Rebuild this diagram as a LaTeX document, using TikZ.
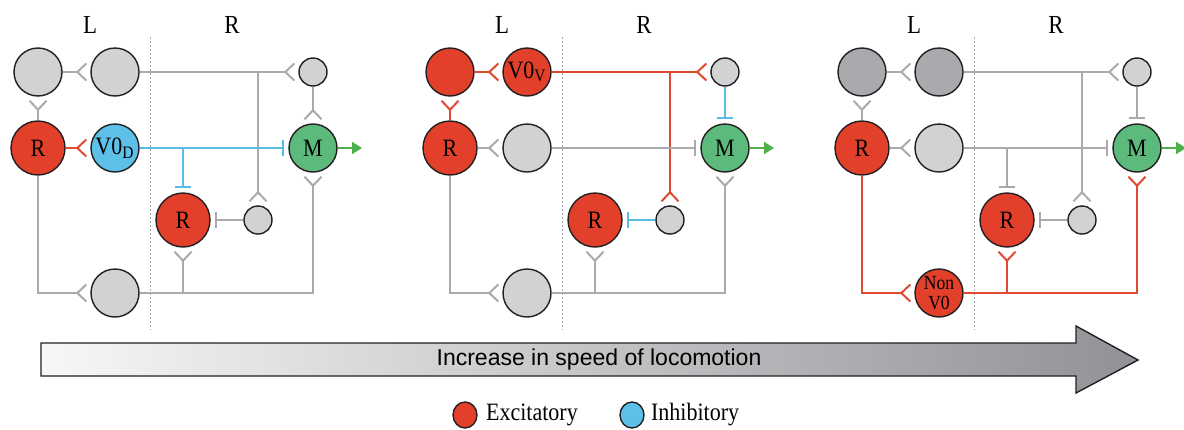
\documentclass[tikz,border=0pt]{standalone}
\usepackage{fontspec}
\setmainfont{Liberation Serif}[FakeStretch=0.88]
\newfontfamily\sansfam{Liberation Sans}
\usetikzlibrary{arrows.meta,shapes.geometric,positioning}

\definecolor{exred}{HTML}{E2402B}
\definecolor{inblue}{HTML}{5CC0E8}
\definecolor{mngreen}{HTML}{5DBA7D}
\definecolor{cellgray}{HTML}{D1D2D4}
\definecolor{darkcell}{HTML}{A8AAAD}
\definecolor{wire}{HTML}{A8AAAD}
\definecolor{redwire}{HTML}{E04A33}
\definecolor{bluewire}{HTML}{5ABCE3}
\definecolor{outgreen}{HTML}{4DB04A}
\definecolor{rim}{HTML}{231F20}
\definecolor{shadeL}{HTML}{F7F7F8}
\definecolor{shadeR}{HTML}{909295}

\tikzset{
  cell/.style={circle, draw=rim, line width=0.7pt, inner sep=0pt,
    minimum size=24pt, font=\fontsize{12.5}{13}\selectfont},
  bigcell/.style={cell, minimum size=27pt},
  smallcell/.style={cell, minimum size=14pt},
  exc/.style={line width=1pt, -{Straight Barb[reversed, length=4.5pt, width=8.5pt]}, shorten >=1.5pt},
  inh/.style={line width=1pt, -{Bar[width=8pt]}, shorten >=2pt},
  motor/.style={outgreen, line width=1pt, -{Triangle[length=5pt, width=6pt]}},
  side/.style={font=\fontsize{13}{14}\selectfont},
  midline/.style={wire, line width=0.4pt, dash pattern=on 1pt off 1pt},
  key/.style={ellipse, draw=rim, line width=0.7pt, inner sep=0pt,
    minimum width=12pt, minimum height=13pt},
  keytext/.style={inner sep=0pt, font=\fontsize{12.5}{13}\selectfont}
}

\begin{document}
\begin{tikzpicture}[x=0.5pt, y=-0.5pt]
  \useasboundingbox (0,0) rectangle (1184,429);

  % sides and midlines
  \foreach \dx in {0,412,824} {
    \node[side] (L\dx) at (90+\dx,25) {L};
    \node[side] (R\dx) at (232+\dx,25) {R};
    \draw[midline] (150+\dx,37) -- (150+\dx,330);
  }

  % slow
  \begin{scope}
    \node[cell, fill=cellgray] (a1) at (38,72) {};
    \node[cell, fill=cellgray] (a2) at (115,72) {};
    \node[smallcell, fill=cellgray] (a3) at (313,72) {};
    \node[bigcell, fill=exred] (a4) at (38,148) {R};
    \node[cell, fill=inblue] (a5) at (115,148) {V0\textsubscript{D}};
    \node[cell, fill=mngreen] (a6) at (313,148) {M};
    \node[bigcell, fill=exred] (a7) at (183,220) {R};
    \node[smallcell, fill=cellgray] (a8) at (258,220) {};
    \node[cell, fill=cellgray] (a9) at (115,293) {};
    \coordinate (a10) at (362,148);
    \draw[exc, wire] (a1) -- (a2);
    \draw[exc, wire] (a4) -- (a1);
    \draw[exc, wire] (a2) -- (a3);
    \draw[exc, wire] (a2 -| a8) -- (a8);
    \draw[exc, wire] (a3) -- (a6);
    \draw[exc, redwire] (a4) -- (a5);
    \draw[inh, bluewire] (a5) -- (a6);
    \draw[inh, bluewire] (a5 -| a7) -- (a7);
    \draw[inh, wire] (a8) -- (a7);
    \draw[exc, wire] (a4) |- (a9);
    \draw[exc, wire] (a9) -| (a6);
    \draw[exc, wire] (a9 -| a7) -- (a7);
    \draw[motor] (a6) -- (a10);
  \end{scope}

  % medium
  \begin{scope}[shift={(412,0)}]
    \node[cell, fill=exred] (b1) at (38,72) {};
    \node[cell, fill=exred] (b2) at (115,72) {V0\textsubscript{V}};
    \node[smallcell, fill=cellgray] (b3) at (313,72) {};
    \node[bigcell, fill=exred] (b4) at (38,148) {R};
    \node[cell, fill=cellgray] (b5) at (115,148) {};
    \node[cell, fill=mngreen] (b6) at (313,148) {M};
    \node[bigcell, fill=exred] (b7) at (183,220) {R};
    \node[smallcell, fill=cellgray] (b8) at (258,220) {};
    \node[cell, fill=cellgray] (b9) at (115,293) {};
    \coordinate (b10) at (362,148);
    \draw[exc, redwire] (b1) -- (b2);
    \draw[exc, redwire] (b4) -- (b1);
    \draw[exc, redwire] (b2) -- (b3);
    \draw[exc, redwire] (b2 -| b8) -- (b8);
    \draw[inh, bluewire] (b3) -- (b6);
    \draw[exc, wire] (b4) -- (b5);
    \draw[inh, wire] (b5) -- (b6);
    \draw[inh, bluewire] (b8) -- (b7);
    \draw[exc, wire] (b4) |- (b9);
    \draw[exc, wire] (b9) -| (b6);
    \draw[exc, wire] (b9 -| b7) -- (b7);
    \draw[motor] (b6) -- (b10);
  \end{scope}

  % fast
  \begin{scope}[shift={(824,0)}]
    \node[cell, fill=darkcell] (c1) at (38,72) {};
    \node[cell, fill=darkcell] (c2) at (115,72) {};
    \node[smallcell, fill=cellgray] (c3) at (313,72) {};
    \node[bigcell, fill=exred] (c4) at (38,148) {R};
    \node[cell, fill=cellgray] (c5) at (115,148) {};
    \node[cell, fill=mngreen] (c6) at (313,148) {M};
    \node[bigcell, fill=exred] (c7) at (183,220) {R};
    \node[smallcell, fill=cellgray] (c8) at (258,220) {};
    \node[cell, fill=exred, align=center, font=\fontsize{10}{10}\selectfont] (c9) at (115,293) {Non\\V0};
    \coordinate (c10) at (362,148);
    \draw[exc, wire] (c1) -- (c2);
    \draw[exc, wire] (c4) -- (c1);
    \draw[exc, wire] (c2) -- (c3);
    \draw[exc, wire] (c2 -| c8) -- (c8);
    \draw[inh, wire] (c3) -- (c6);
    \draw[exc, wire] (c4) -- (c5);
    \draw[inh, wire] (c5) -- (c6);
    \draw[inh, wire] (c5 -| c7) -- (c7);
    \draw[inh, wire] (c8) -- (c7);
    \draw[exc, redwire] (c4) |- (c9);
    \draw[exc, redwire] (c9) -| (c6);
    \draw[exc, redwire] (c9 -| c7) -- (c7);
    \draw[motor] (c6) -- (c10);
  \end{scope}

  % speed arrow
  \draw[draw=rim, line width=0.7pt, left color=shadeL, right color=shadeR]
    (41,343) -- (1076,343) -- (1076,326) -- (1138,360) -- (1076,393)
    -- (1076,376) -- (41,376) -- cycle;
  \node[font=\sansfam\fontsize{11.5}{12}\selectfont] (speed) at (599,360)
    {Increase in speed of locomotion};

  % legend
  \node[key, fill=exred] (kex) at (465,415) {};
  \node[keytext, right=4pt of kex] (tex) {Excitatory};
  \node[key, fill=inblue] (kin) at (632,415) {};
  \node[keytext, right=3pt of kin] (tin) {Inhibitory};
\end{tikzpicture}
\end{document}
